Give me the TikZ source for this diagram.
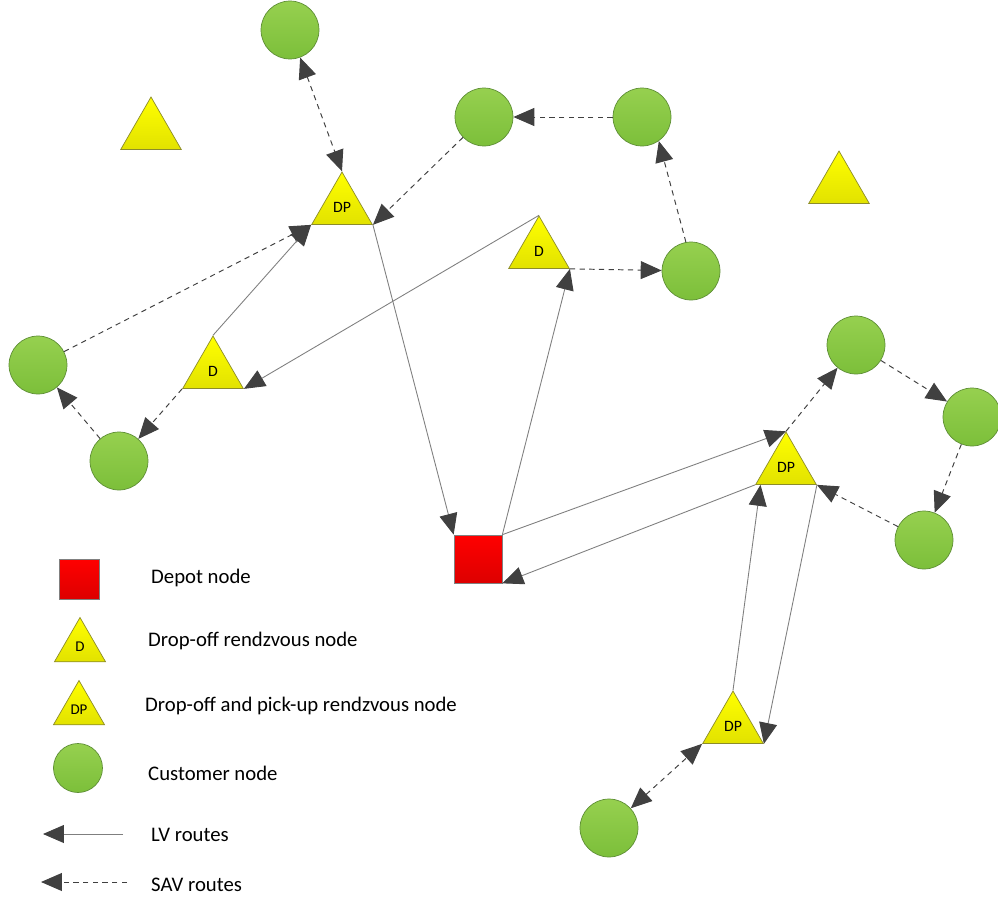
\documentclass[tikz,border=0pt]{standalone}
\usepackage{fontspec}
\setmainfont{Carlito}
\usetikzlibrary{shapes.geometric,arrows.meta}

\definecolor{custtop}{HTML}{96D04F}
\definecolor{custbot}{HTML}{7CBF3A}
\definecolor{custedge}{HTML}{5E8E36}
\definecolor{rdvtop}{HTML}{FFFF00}
\definecolor{rdvbot}{HTML}{E2E200}
\definecolor{rdvedge}{HTML}{8C8C2A}
\definecolor{depotbot}{HTML}{DD0000}
\definecolor{tipgray}{HTML}{404040}
\definecolor{lvgray}{HTML}{7F7F7F}

\begin{document}
\begin{tikzpicture}[
    x=0.02cm, y=-0.02cm,
    customer/.style={circle, draw=custedge, top color=custtop, bottom color=custbot, minimum size=1.16cm, inner sep=0pt},
    rdv/.style={regular polygon, regular polygon sides=3, draw=rdvedge, top color=rdvtop, bottom color=rdvbot, minimum size=1.4cm, inner sep=0pt, font=\fontsize{9}{10}\selectfont},
    depot/.style={rectangle, draw=gray, top color=red, bottom color=depotbot, minimum size=0.96cm, inner sep=0pt},
    lvroute/.style={-{Triangle[length=0.42cm, width=0.36cm, color=tipgray]}, draw=lvgray, line width=0.5pt},
    savroute/.style={-{Triangle[length=0.42cm, width=0.36cm, color=tipgray]}, draw=tipgray, line width=0.55pt, dash pattern=on 3pt off 2.5pt},
    savboth/.style={{Triangle[length=0.42cm, width=0.36cm, color=tipgray]}-{Triangle[length=0.42cm, width=0.36cm, color=tipgray]}, draw=tipgray, line width=0.55pt, dash pattern=on 3pt off 2.5pt},
    legtext/.style={anchor=west, font=\fontsize{11.8}{14}\selectfont}
]
\useasboundingbox (0,0) rectangle (998,900);

% Customer nodes
\node[customer] (cu1) at (290,30) {};
\node[customer] (cu2) at (484,117) {};
\node[customer] (cu3) at (642,117) {};
\node[customer] (cu4) at (691,271) {};
\node[customer] (cu5) at (38,365) {};
\node[customer] (cu6) at (119,461) {};
\node[customer] (cu7) at (856,345) {};
\node[customer] (cu8) at (972,417) {};
\node[customer] (cu9) at (924,540) {};
\node[customer] (cu10) at (609,828) {};

% Rendezvous nodes
\node[rdv] (t1) at (151,132) {};
\node[rdv] (t2) at (839,186) {};
\node[rdv] (dp1) at (342,207) {DP};
\node[rdv] (d1) at (539,251) {D};
\node[rdv] (d2) at (213,371) {D};
\node[rdv] (dp2) at (786,467) {DP};
\node[rdv] (dp3) at (733,726) {DP};

% Depot
\node[depot] (depot) at (478,559) {};

% SAV routes
\draw[savboth] (cu1) -- (dp1.corner 1);
\draw[savroute] (cu3) -- (cu2);
\draw[savroute] (cu2) -- (dp1.corner 3);
\draw[savroute] (cu4.100) -- (cu3.-55);
\draw[savroute] (d1.corner 3) -- (cu4);
\draw[savroute] (cu5) -- (dp1.corner 2);
\draw[savroute] (cu6) -- (cu5);
\draw[savroute] (d2.corner 2) -- (cu6);
\draw[savroute] (dp2.corner 1) -- (cu7);
\draw[savroute] (cu7) -- (cu8);
\draw[savroute] (cu8) -- (cu9);
\draw[savroute] (cu9) -- (dp2.corner 3);
\draw[savboth] (cu10) -- (dp3.corner 2);

% LV routes
\draw[lvroute] (dp1.corner 3) -- (depot.north west);
\draw[lvroute] (depot.north east) -- (d1.corner 3);
\draw[lvroute] (d1.corner 1) -- (d2.corner 3);
\draw[lvroute] (d2.corner 1) -- (dp1.corner 2);
\draw[lvroute] (depot.north east) -- (dp2.corner 1);
\draw[lvroute] (dp2.corner 2) -- (depot.south east);
\draw[lvroute] (dp3.corner 1) -- (dp2.-145);
\draw[lvroute] (dp2.corner 3) -- (dp3.corner 3);

% Legend
\node[depot, minimum size=0.8cm] (lgdepot) at (79,579) {};
\node[rdv, minimum size=1.18cm, font=\fontsize{8.5}{9}\selectfont] (lgd) at (80,647) {D};
\node[rdv, minimum size=1.18cm, font=\fontsize{8.5}{9}\selectfont] (lgdp) at (79,710) {DP};
\node[customer, minimum size=0.98cm] (lgcu) at (78,768) {};
\coordinate (lglv a) at (123,834);
\coordinate (lglv b) at (43,834);
\draw[lvroute] (lglv a) -- (lglv b);
\coordinate (lgsav a) at (127,882);
\coordinate (lgsav b) at (41,882);
\draw[savroute] (lgsav a) -- (lgsav b);

\node[legtext] (txdepot) at (145,578) {Depot node};
\node[legtext] (txd) at (142,641) {Drop-off rendzvous node};
\node[legtext] (txdp) at (139,706) {Drop-off and pick-up rendzvous node};
\node[legtext] (txcu) at (142,773) {Customer node};
\node[legtext] (txlv) at (145,835) {LV routes};
\node[legtext] (txsav) at (145,885) {SAV routes};

\end{tikzpicture}
\end{document}
